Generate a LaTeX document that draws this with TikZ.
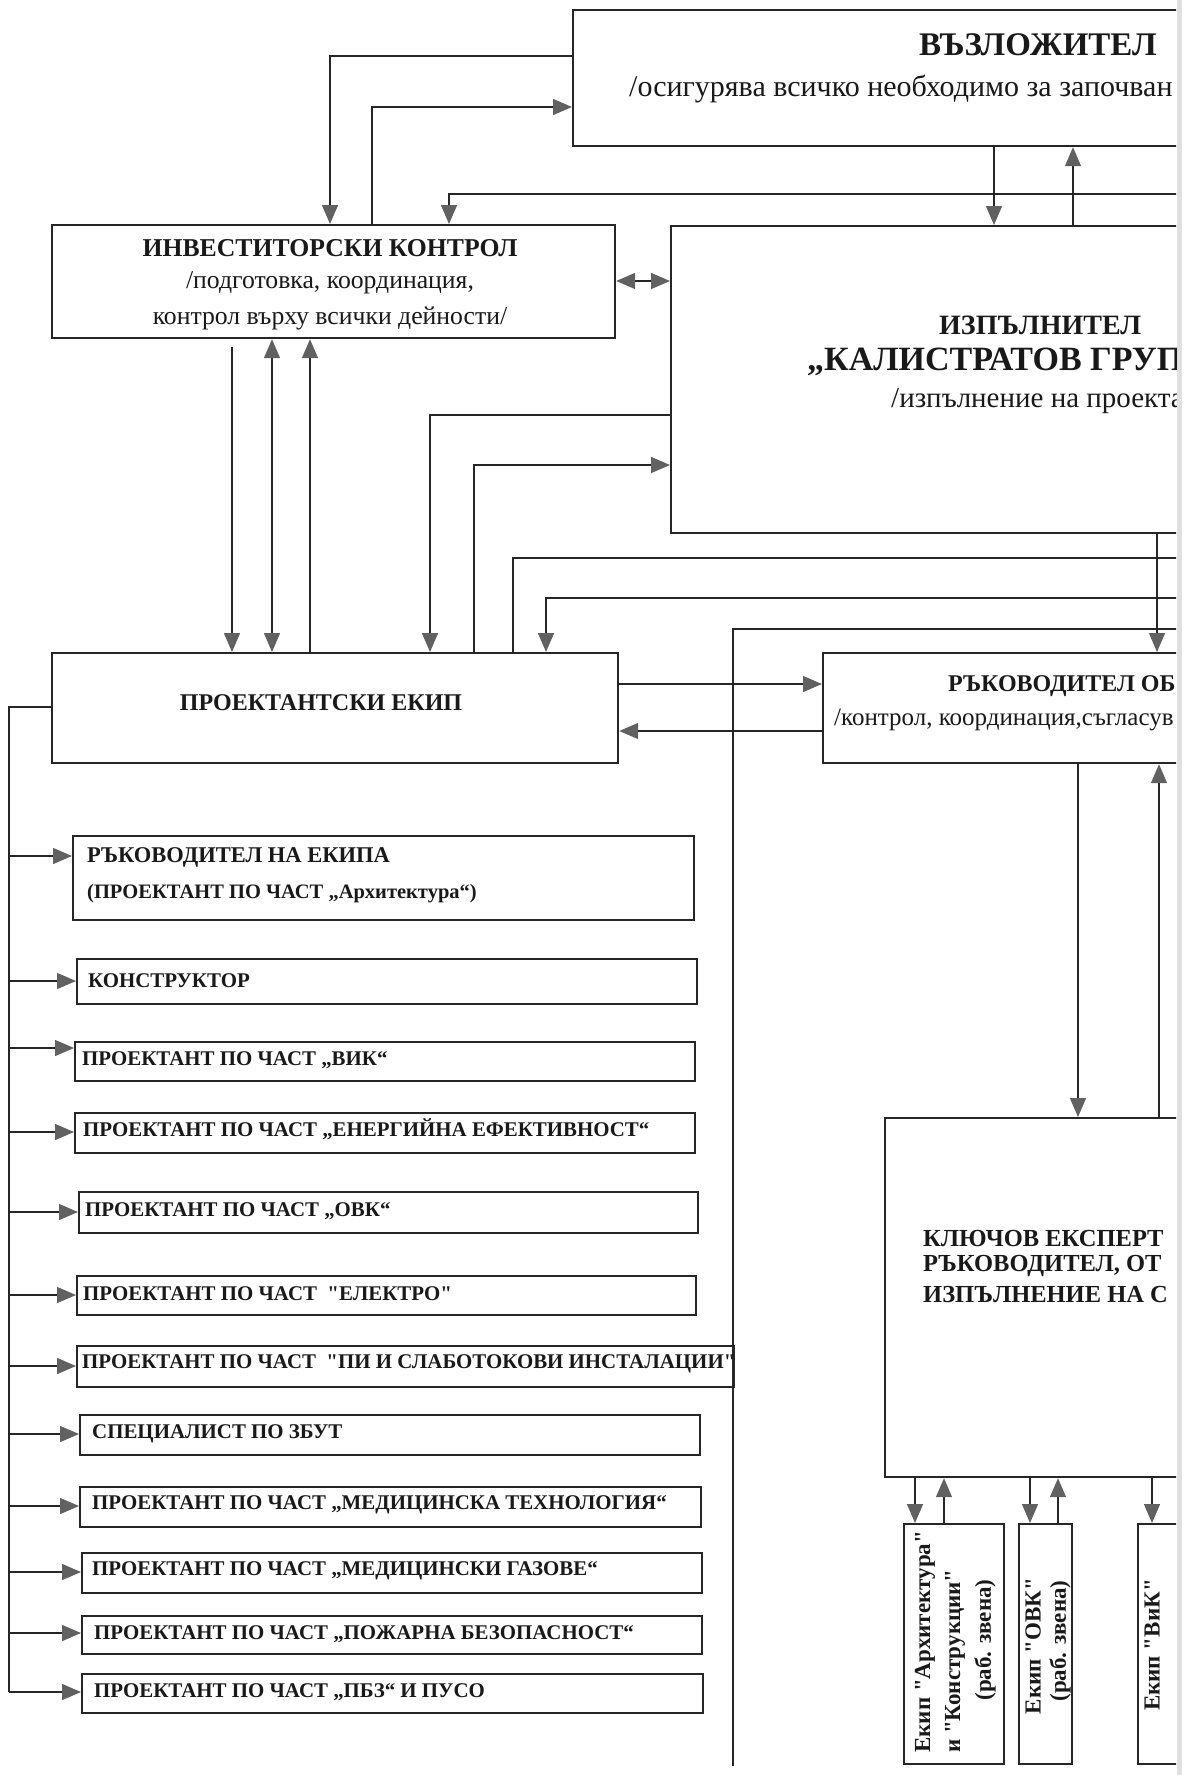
\documentclass[tikz,border=0pt]{standalone}
\usepackage{fontspec}
\setmainfont{Liberation Serif}[Ligatures=TeXOff]
\usetikzlibrary{arrows.meta}
\newcommand\fsz[1]{\fontsize{#1}{#1}\selectfont}
\begin{document}
\begin{tikzpicture}[x=1pt,y=-1pt,
  box/.style={draw=black!85,line width=2.2pt,inner sep=0pt,anchor=north west},
  conn/.style={draw=black!85,line width=1.4pt},
  >={Triangle[length=19pt,width=16pt,color=black!62]},
  lbl/.style={inner sep=0pt,anchor=west,text=black!90},
  ctr/.style={inner sep=0pt,text=black!90},
  itm/.style={lbl,font=\bfseries\fsz{20.9}},
  team/.style={inner sep=0pt,rotate=90,text=black!90,font=\bfseries\fsz{23}},
  ]
\useasboundingbox (0,0) rectangle (1184,1775);
\fill[white] (0,0) rectangle (1184,1775);
\begin{scope}
\clip (0,0) rectangle (1176,1775);
% ---------- boxes
\node[box,minimum width=700pt,minimum height=136pt] (vaz) at (572,9) {};
\node[box,minimum width=563pt,minimum height=113pt] (ik) at (51,224) {};
\node[box,minimum width=600pt,minimum height=307pt] (izp) at (670,225) {};
\node[box,minimum width=566pt,minimum height=110pt] (pe) at (51,652) {};
\node[box,minimum width=500pt,minimum height=110pt] (ro) at (822,652) {};
\node[box,minimum width=400pt,minimum height=359pt] (ke) at (884,1117) {};
\node[box,minimum width=621pt,minimum height=84pt] (i1) at (72,835) {};
\node[box,minimum width=620pt,minimum height=45pt] (i2) at (76,958) {};
\node[box,minimum width=620pt,minimum height=39pt] (i3) at (74,1041) {};
\node[box,minimum width=620pt,minimum height=40pt] (i4) at (74,1112) {};
\node[box,minimum width=619pt,minimum height=41pt] (i5) at (78,1191) {};
\node[box,minimum width=619pt,minimum height=39pt] (i6) at (76,1275) {};
\node[box,minimum width=657pt,minimum height=41pt] (i7) at (76,1345) {};
\node[box,minimum width=620pt,minimum height=40pt] (i8) at (79,1414) {};
\node[box,minimum width=621pt,minimum height=40pt] (i9) at (79,1486) {};
\node[box,minimum width=620pt,minimum height=40pt] (i10) at (81,1552) {};
\node[box,minimum width=620pt,minimum height=38pt] (i11) at (81,1615) {};
\node[box,minimum width=621pt,minimum height=39pt] (i12) at (81,1673) {};
\node[box,minimum width=100pt,minimum height=240pt] (t1) at (903,1523) {};
\node[box,minimum width=53pt,minimum height=240pt] (t2) at (1018,1523) {};
\node[box,minimum width=100pt,minimum height=240pt] (t3) at (1137,1523) {};
% ---------- texts
\node[lbl,font=\bfseries\fsz{33}] (vazT) at (919,45) {ВЪЗЛОЖИТЕЛ};
\node[lbl,font=\fsz{30}] (vazS) at (629,89) {/осигурява всичко необходимо за започван};
\node[ctr,font=\bfseries\fsz{25.7}] (ikT) at (330,248) {ИНВЕСТИТОРСКИ КОНТРОЛ};
\node[ctr,font=\fsz{25.7}] (ikS1) at (330,283) {/подготовка, координация,};
\node[ctr,font=\fsz{25.7}] (ikS2) at (330,318) {контрол върху всички дейности/};
\node[lbl,font=\bfseries\fsz{28}] (izpT) at (939,325) {ИЗПЪЛНИТЕЛ};
\node[lbl,font=\bfseries\fsz{34}] (izpN) at (807,362) {„КАЛИСТРАТОВ ГРУП};
\node[lbl,font=\fsz{29}] (izpS) at (891,401) {/изпълнение на проекта};
\node[ctr,font=\bfseries\fsz{24}] (peT) at (321,703) {ПРОЕКТАНТСКИ ЕКИП};
\node[lbl,font=\bfseries\fsz{24}] (roT) at (948,686) {РЪКОВОДИТЕЛ ОБ};
\node[lbl,font=\fsz{25}] (roS) at (834,720) {/контрол, координация,съгласув};
\node[lbl,font=\bfseries\fsz{24.5}] (ke1) at (923,1238) {КЛЮЧОВ ЕКСПЕРТ};
\node[lbl,font=\bfseries\fsz{24.5}] (ke2) at (923,1266) {РЪКОВОДИТЕЛ, ОТ};
\node[lbl,font=\bfseries\fsz{24.5}] (ke3) at (923,1294) {ИЗПЪЛНЕНИЕ НА С};
\node[lbl,font=\bfseries\fsz{22.5}] (i1a) at (87,857) {РЪКОВОДИТЕЛ НА ЕКИПА};
\node[lbl,font=\bfseries\fsz{20.5}] (i1b) at (87,894) {(ПРОЕКТАНТ ПО ЧАСТ „Архитектура“)};
\node[itm] (i2t) at (88,981) {КОНСТРУКТОР};
\node[itm] (i3t) at (82,1060) {ПРОЕКТАНТ ПО ЧАСТ „ВИК“};
\node[itm] (i4t) at (83,1129) {ПРОЕКТАНТ ПО ЧАСТ „ЕНЕРГИЙНА ЕФЕКТИВНОСТ“};
\node[itm] (i5t) at (85,1211) {ПРОЕКТАНТ ПО ЧАСТ „ОВК“};
\node[itm] (i6t) at (83,1294) {ПРОЕКТАНТ ПО ЧАСТ\ \ "ЕЛЕКТРО"};
\node[itm] (i7t) at (82,1364) {ПРОЕКТАНТ ПО ЧАСТ\ \ "ПИ И СЛАБОТОКОВИ ИНСТАЛАЦИИ"};
\node[itm] (i8t) at (92,1434) {СПЕЦИАЛИСТ ПО ЗБУТ};
\node[itm] (i9t) at (92,1505) {ПРОЕКТАНТ ПО ЧАСТ „МЕДИЦИНСКА ТЕХНОЛОГИЯ“};
\node[itm] (i10t) at (92,1571) {ПРОЕКТАНТ ПО ЧАСТ „МЕДИЦИНСКИ ГАЗОВЕ“};
\node[itm] (i11t) at (94,1634) {ПРОЕКТАНТ ПО ЧАСТ „ПОЖАРНА БЕЗОПАСНОСТ“};
\node[itm] (i12t) at (94,1692) {ПРОЕКТАНТ ПО ЧАСТ „ПБЗ“ И ПУСО};
\node[team,anchor=west] (t1a) at (925,1753) {Екип "Архитектура"};
\node[team,anchor=west] (t1b) at (955,1753) {и "Конструкции"};
\node[team] (t1c) at (985,1640) {(раб. звена)};
\node[team] (t2a) at (1033,1646) {Екип "ОВК"};
\node[team] (t2b) at (1060,1641) {(раб. звена)};
\node[team] (t3a) at (1152,1645) {Екип "ВиК"};
% ---------- connector coordinates
\coordinate (a1) at (330,56);
\coordinate (a2) at (372,107);
\coordinate (a3) at (449,194);
\coordinate (r194) at (1180,194);
\coordinate (a4) at (994,0);
\coordinate (a5) at (1073,0);
\coordinate (a6) at (0,281);
\coordinate (b1) at (232,347);
\coordinate (b2) at (272,0);
\coordinate (b3) at (310,0);
\coordinate (c1) at (430,415);
\coordinate (c2) at (474,465);
\coordinate (c3) at (513,558);
\coordinate (r558) at (1180,558);
\coordinate (c4) at (546,598);
\coordinate (r598) at (1180,598);
\coordinate (r629) at (1180,629);
\coordinate (c5e) at (733,1766);
\coordinate (c6) at (1157,0);
\coordinate (d1) at (0,684);
\coordinate (d2) at (0,731);
\coordinate (e1) at (1078,0);
\coordinate (e2) at (1159,0);
\coordinate (bus) at (9,707);
\coordinate (busE) at (9,1692);
% ---------- connectors
\draw[conn,->] (vaz.west |- a1) -| (ik.north -| a1);
\draw[conn,->] (ik.north -| a2) |- (vaz.west |- a2);
\draw[conn,->] (r194) -| (ik.north -| a3);
\draw[conn,->] (vaz.south -| a4) -- (izp.north -| a4);
\draw[conn,->] (izp.north -| a5) -- (vaz.south -| a5);
\draw[conn,<->] (ik.east |- a6) -- (izp.west |- a6);
\draw[conn,->] (b1) -- (pe.north -| b1);
\draw[conn,<->] (ik.south -| b2) -- (pe.north -| b2);
\draw[conn,->] (pe.north -| b3) -- (ik.south -| b3);
\draw[conn,->] (izp.west |- c1) -| (pe.north -| c1);
\draw[conn,->] (pe.north -| c2) |- (izp.west |- c2);
\draw[conn] (pe.north -| c3) |- (r558);
\draw[conn,->] (r598) -| (pe.north -| c4);
\draw[conn] (r629) -| (c5e);
\draw[conn,->] (izp.south -| c6) -- (ro.north -| c6);
\draw[conn,->] (pe.east |- d1) -- (ro.west |- d1);
\draw[conn,->] (ro.west |- d2) -- (pe.east |- d2);
\draw[conn,->] (ro.south -| e1) -- (ke.north -| e1);
\draw[conn,->] (ke.north -| e2) -- (ro.south -| e2);
\draw[conn] (pe.west |- bus) -- (bus) -- (busE);
\foreach \n/\y in {i1/856,i2/981,i3/1048,i4/1132,i5/1212,i6/1295,i7/1366,i8/1434,i9/1506,i10/1572,i11/1633,i12/1692}
  \draw[conn,->] (9,\y) -- (\n.west |- 0,\y);
\foreach \x/\b in {915/t1,1030/t2,1152/t3}
  \draw[conn,->] (ke.south -| \x,0) -- (\b.north -| \x,0);
\foreach \x/\a in {944/t1,1058/t2}
  \draw[conn,->] (\a.north -| \x,0) -- (ke.south -| \x,0);
\end{scope}
\fill[black!12] (1177,0) rectangle (1182,1775);
\end{tikzpicture}
\end{document}
